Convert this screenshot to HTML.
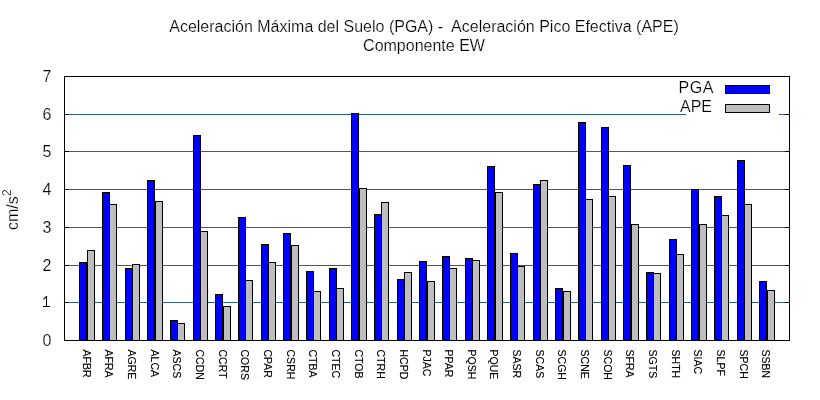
<!DOCTYPE html>
<html><head><meta charset="utf-8"><style>
html,body{margin:0;padding:0;background:#fff;}
body{width:820px;height:400px;overflow:hidden;}
svg{display:block;will-change:transform;}
text{font-family:"Liberation Sans",sans-serif;fill:#000;stroke:#fff;stroke-width:0.2px;}
text.xl{stroke:#000;stroke-width:0.15px;}
</style></head><body>
<svg width="820" height="400" viewBox="0 0 820 400">
<rect x="0" y="0" width="820" height="400" fill="#fff"/>

<g shape-rendering="crispEdges" stroke-width="1">
<line x1="69" y1="302.5" x2="785" y2="302.5" stroke="#2f6080"/>
<line x1="69" y1="265.5" x2="785" y2="265.5" stroke="#2f6080"/>
<line x1="69" y1="227.5" x2="785" y2="227.5" stroke="#2f6080"/>
<line x1="69" y1="189.5" x2="785" y2="189.5" stroke="#2f6080"/>
<line x1="69" y1="151.5" x2="785" y2="151.5" stroke="#2f6080"/>
<line x1="69" y1="114.5" x2="686" y2="114.5" stroke="#2f6080"/>
<line x1="779" y1="114.5" x2="785" y2="114.5" stroke="#2f6080"/>
<line x1="64" y1="340.5" x2="69" y2="340.5" stroke="#000"/>
<line x1="785" y1="340.5" x2="789" y2="340.5" stroke="#000"/>
<line x1="64" y1="302.5" x2="69" y2="302.5" stroke="#000"/>
<line x1="785" y1="302.5" x2="789" y2="302.5" stroke="#000"/>
<line x1="64" y1="265.5" x2="69" y2="265.5" stroke="#000"/>
<line x1="785" y1="265.5" x2="789" y2="265.5" stroke="#000"/>
<line x1="64" y1="227.5" x2="69" y2="227.5" stroke="#000"/>
<line x1="785" y1="227.5" x2="789" y2="227.5" stroke="#000"/>
<line x1="64" y1="189.5" x2="69" y2="189.5" stroke="#000"/>
<line x1="785" y1="189.5" x2="789" y2="189.5" stroke="#000"/>
<line x1="64" y1="151.5" x2="69" y2="151.5" stroke="#000"/>
<line x1="785" y1="151.5" x2="789" y2="151.5" stroke="#000"/>
<line x1="64" y1="114.5" x2="69" y2="114.5" stroke="#000"/>
<line x1="785" y1="114.5" x2="789" y2="114.5" stroke="#000"/>
<line x1="64" y1="76.5" x2="69" y2="76.5" stroke="#000"/>
<line x1="785" y1="76.5" x2="789" y2="76.5" stroke="#000"/>
<rect x="79.5" y="262.5" width="7" height="78" fill="#0000ff" stroke="#000"/>
<rect x="87.5" y="250.5" width="7" height="90" fill="#bebebe" stroke="#000"/>
<rect x="102.5" y="192.5" width="7" height="148" fill="#0000ff" stroke="#000"/>
<rect x="109.5" y="204.5" width="7" height="136" fill="#bebebe" stroke="#000"/>
<rect x="125.5" y="268.5" width="7" height="72" fill="#0000ff" stroke="#000"/>
<rect x="132.5" y="264.5" width="7" height="76" fill="#bebebe" stroke="#000"/>
<rect x="147.5" y="180.5" width="7" height="160" fill="#0000ff" stroke="#000"/>
<rect x="155.5" y="201.5" width="7" height="139" fill="#bebebe" stroke="#000"/>
<rect x="170.5" y="320.5" width="7" height="20" fill="#0000ff" stroke="#000"/>
<rect x="177.5" y="323.5" width="7" height="17" fill="#bebebe" stroke="#000"/>
<rect x="193.5" y="135.5" width="7" height="205" fill="#0000ff" stroke="#000"/>
<rect x="200.5" y="231.5" width="7" height="109" fill="#bebebe" stroke="#000"/>
<rect x="215.5" y="294.5" width="7" height="46" fill="#0000ff" stroke="#000"/>
<rect x="223.5" y="306.5" width="7" height="34" fill="#bebebe" stroke="#000"/>
<rect x="238.5" y="217.5" width="7" height="123" fill="#0000ff" stroke="#000"/>
<rect x="245.5" y="280.5" width="7" height="60" fill="#bebebe" stroke="#000"/>
<rect x="261.5" y="244.5" width="7" height="96" fill="#0000ff" stroke="#000"/>
<rect x="268.5" y="262.5" width="7" height="78" fill="#bebebe" stroke="#000"/>
<rect x="283.5" y="233.5" width="7" height="107" fill="#0000ff" stroke="#000"/>
<rect x="291.5" y="245.5" width="7" height="95" fill="#bebebe" stroke="#000"/>
<rect x="306.5" y="271.5" width="7" height="69" fill="#0000ff" stroke="#000"/>
<rect x="313.5" y="291.5" width="7" height="49" fill="#bebebe" stroke="#000"/>
<rect x="329.5" y="268.5" width="7" height="72" fill="#0000ff" stroke="#000"/>
<rect x="336.5" y="288.5" width="7" height="52" fill="#bebebe" stroke="#000"/>
<rect x="351.5" y="113.5" width="7" height="227" fill="#0000ff" stroke="#000"/>
<rect x="359.5" y="188.5" width="7" height="152" fill="#bebebe" stroke="#000"/>
<rect x="374.5" y="214.5" width="7" height="126" fill="#0000ff" stroke="#000"/>
<rect x="381.5" y="202.5" width="7" height="138" fill="#bebebe" stroke="#000"/>
<rect x="397.5" y="279.5" width="7" height="61" fill="#0000ff" stroke="#000"/>
<rect x="404.5" y="272.5" width="7" height="68" fill="#bebebe" stroke="#000"/>
<rect x="419.5" y="261.5" width="7" height="79" fill="#0000ff" stroke="#000"/>
<rect x="427.5" y="281.5" width="7" height="59" fill="#bebebe" stroke="#000"/>
<rect x="442.5" y="256.5" width="7" height="84" fill="#0000ff" stroke="#000"/>
<rect x="449.5" y="268.5" width="7" height="72" fill="#bebebe" stroke="#000"/>
<rect x="465.5" y="258.5" width="7" height="82" fill="#0000ff" stroke="#000"/>
<rect x="472.5" y="260.5" width="7" height="80" fill="#bebebe" stroke="#000"/>
<rect x="487.5" y="166.5" width="7" height="174" fill="#0000ff" stroke="#000"/>
<rect x="495.5" y="192.5" width="7" height="148" fill="#bebebe" stroke="#000"/>
<rect x="510.5" y="253.5" width="7" height="87" fill="#0000ff" stroke="#000"/>
<rect x="517.5" y="266.5" width="7" height="74" fill="#bebebe" stroke="#000"/>
<rect x="533.5" y="184.5" width="7" height="156" fill="#0000ff" stroke="#000"/>
<rect x="540.5" y="180.5" width="7" height="160" fill="#bebebe" stroke="#000"/>
<rect x="555.5" y="288.5" width="7" height="52" fill="#0000ff" stroke="#000"/>
<rect x="563.5" y="291.5" width="7" height="49" fill="#bebebe" stroke="#000"/>
<rect x="578.5" y="122.5" width="7" height="218" fill="#0000ff" stroke="#000"/>
<rect x="585.5" y="199.5" width="7" height="141" fill="#bebebe" stroke="#000"/>
<rect x="601.5" y="127.5" width="7" height="213" fill="#0000ff" stroke="#000"/>
<rect x="608.5" y="196.5" width="7" height="144" fill="#bebebe" stroke="#000"/>
<rect x="623.5" y="165.5" width="7" height="175" fill="#0000ff" stroke="#000"/>
<rect x="631.5" y="224.5" width="7" height="116" fill="#bebebe" stroke="#000"/>
<rect x="646.5" y="272.5" width="7" height="68" fill="#0000ff" stroke="#000"/>
<rect x="653.5" y="273.5" width="7" height="67" fill="#bebebe" stroke="#000"/>
<rect x="669.5" y="239.5" width="7" height="101" fill="#0000ff" stroke="#000"/>
<rect x="676.5" y="254.5" width="7" height="86" fill="#bebebe" stroke="#000"/>
<rect x="691.5" y="189.5" width="7" height="151" fill="#0000ff" stroke="#000"/>
<rect x="699.5" y="224.5" width="7" height="116" fill="#bebebe" stroke="#000"/>
<rect x="714.5" y="196.5" width="7" height="144" fill="#0000ff" stroke="#000"/>
<rect x="721.5" y="215.5" width="7" height="125" fill="#bebebe" stroke="#000"/>
<rect x="737.5" y="160.5" width="7" height="180" fill="#0000ff" stroke="#000"/>
<rect x="744.5" y="204.5" width="7" height="136" fill="#bebebe" stroke="#000"/>
<rect x="759.5" y="281.5" width="7" height="59" fill="#0000ff" stroke="#000"/>
<rect x="767.5" y="290.5" width="7" height="50" fill="#bebebe" stroke="#000"/>
<rect x="64.5" y="76.5" width="725" height="264" fill="none" stroke="#000"/>
<rect x="725.5" y="85.5" width="44" height="8" fill="#0000ff" stroke="#000"/>
<rect x="725.5" y="104.5" width="44" height="8" fill="#bebebe" stroke="#000"/>
</g>
<text x="51.5" y="345.5" font-size="16" text-anchor="end">0</text>
<g shape-rendering="crispEdges" fill="#000"><rect x="46" y="296" width="1" height="11"/><rect x="43" y="306" width="7" height="1"/></g>
<path d="M43.4,299.4 L46.6,296.4" stroke="#000" stroke-width="1.2" fill="none"/>
<text x="51.5" y="270.5" font-size="16" text-anchor="end">2</text>
<text x="51.5" y="232.5" font-size="16" text-anchor="end">3</text>
<text x="51.5" y="194.5" font-size="16" text-anchor="end">4</text>
<text x="51.5" y="156.5" font-size="16" text-anchor="end">5</text>
<text x="51.5" y="119.5" font-size="16" text-anchor="end">6</text>
<text x="51.5" y="81.5" font-size="16" text-anchor="end">7</text>
<text x="424" y="32" font-size="16" text-anchor="middle" xml:space="preserve">Aceleración Máxima del Suelo (PGA) -  Aceleración Pico Efectiva (APE)</text>
<text x="424" y="51" font-size="16" text-anchor="middle">Componente EW</text>
<text x="678.5" y="93" font-size="16" letter-spacing="0.6">PGA</text>
<text x="712" y="112" font-size="16" text-anchor="end">APE</text>
<text transform="translate(17.5,230) rotate(-90)" font-size="16">cm/s<tspan font-size="12.8" dy="-7">2</tspan></text>
<text transform="translate(82.66,349.5) rotate(90) scale(0.985,1)" font-size="10.7" class="xl">AFBR</text>
<text transform="translate(105.31,349.5) rotate(90) scale(0.985,1)" font-size="10.7" class="xl">AFRA</text>
<text transform="translate(127.97,349.5) rotate(90) scale(0.985,1)" font-size="10.7" class="xl">AGRE</text>
<text transform="translate(150.62,349.5) rotate(90) scale(0.985,1)" font-size="10.7" class="xl">ALCA</text>
<text transform="translate(173.28,349.5) rotate(90) scale(0.985,1)" font-size="10.7" class="xl">ASCS</text>
<text transform="translate(195.94,349.5) rotate(90) scale(0.985,1)" font-size="10.7" class="xl">CCDN</text>
<text transform="translate(218.59,349.5) rotate(90) scale(0.985,1)" font-size="10.7" class="xl">CCRT</text>
<text transform="translate(241.25,349.5) rotate(90) scale(0.985,1)" font-size="10.7" class="xl">CORS</text>
<text transform="translate(263.91,349.5) rotate(90) scale(0.985,1)" font-size="10.7" class="xl">CPAR</text>
<text transform="translate(286.56,349.5) rotate(90) scale(0.985,1)" font-size="10.7" class="xl">CSRH</text>
<text transform="translate(309.22,349.5) rotate(90) scale(0.985,1)" font-size="10.7" class="xl">CTBA</text>
<text transform="translate(331.88,349.5) rotate(90) scale(0.985,1)" font-size="10.7" class="xl">CTEC</text>
<text transform="translate(354.53,349.5) rotate(90) scale(0.985,1)" font-size="10.7" class="xl">CTOB</text>
<text transform="translate(377.19,349.5) rotate(90) scale(0.985,1)" font-size="10.7" class="xl">CTRH</text>
<text transform="translate(399.84,349.5) rotate(90) scale(0.985,1)" font-size="10.7" class="xl">HCPD</text>
<text transform="translate(422.50,349.5) rotate(90) scale(0.985,1)" font-size="10.7" class="xl">PJAC</text>
<text transform="translate(445.16,349.5) rotate(90) scale(0.985,1)" font-size="10.7" class="xl">PPAR</text>
<text transform="translate(467.81,349.5) rotate(90) scale(0.985,1)" font-size="10.7" class="xl">PQSH</text>
<text transform="translate(490.47,349.5) rotate(90) scale(0.985,1)" font-size="10.7" class="xl">PQUE</text>
<text transform="translate(513.12,349.5) rotate(90) scale(0.985,1)" font-size="10.7" class="xl">SASR</text>
<text transform="translate(535.78,349.5) rotate(90) scale(0.985,1)" font-size="10.7" class="xl">SCAS</text>
<text transform="translate(558.44,349.5) rotate(90) scale(0.985,1)" font-size="10.7" class="xl">SCGH</text>
<text transform="translate(581.09,349.5) rotate(90) scale(0.985,1)" font-size="10.7" class="xl">SCNE</text>
<text transform="translate(603.75,349.5) rotate(90) scale(0.985,1)" font-size="10.7" class="xl">SCOH</text>
<text transform="translate(626.41,349.5) rotate(90) scale(0.985,1)" font-size="10.7" class="xl">SFRA</text>
<text transform="translate(649.06,349.5) rotate(90) scale(0.985,1)" font-size="10.7" class="xl">SGTS</text>
<text transform="translate(671.72,349.5) rotate(90) scale(0.985,1)" font-size="10.7" class="xl">SHTH</text>
<text transform="translate(694.38,349.5) rotate(90) scale(0.985,1)" font-size="10.7" class="xl">SIAC</text>
<text transform="translate(717.03,349.5) rotate(90) scale(0.985,1)" font-size="10.7" class="xl">SLPF</text>
<text transform="translate(739.69,349.5) rotate(90) scale(0.985,1)" font-size="10.7" class="xl">SPCH</text>
<text transform="translate(762.34,349.5) rotate(90) scale(0.985,1)" font-size="10.7" class="xl">SSBN</text>
</svg>
</body></html>
